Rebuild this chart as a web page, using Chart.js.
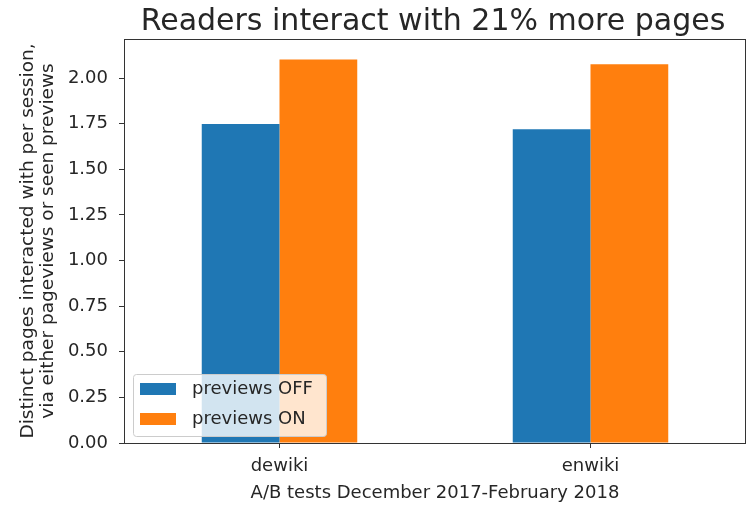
<!DOCTYPE html>
<html>
<head>
<meta charset="utf-8">
<script src="https://cdn.jsdelivr.net/npm/chart.js@4/dist/chart.umd.min.js"></script>
<style>
  html, body { margin: 0; padding: 0; background: #ffffff; }
  #wrap { width: 747px; height: 505px; }
</style>
</head>
<body>
<div id="wrap"><canvas id="myChart" width="747" height="505"></canvas></div>
<script>
// data
var wikis = ["dewiki", "enwiki"];
var previewsOff = [1.748, 1.719];
var previewsOn = [2.102, 2.075];
var seriesNames = ["previews OFF", "previews ON"];
var yTicks = [0, 0.25, 0.5, 0.75, 1.0, 1.25, 1.5, 1.75, 2.0];

var titleText = "Readers interact with 21% more pages";
var xTitle = "A/B tests December 2017-February 2018";
var yTitle = ["Distinct pages interacted with per session,", "via either pageviews or seen previews"];

var FONT = "'DejaVu Sans', sans-serif";
var INK = "#262626";

// title, frame and legend drawn on top
var extras = {
    id: "extras",
    afterDraw: function(chart){
        var ctx = chart.ctx;
        var a = chart.chartArea;
        ctx.save();

        // frame round the plot
        ctx.strokeStyle = "#333333";
        ctx.lineWidth = 1;
        ctx.strokeRect(a.left + 0.5, a.top + 0.5, a.right - a.left - 1, a.bottom - a.top);

        // title
        ctx.fillStyle = INK;
        ctx.font = "30px " + FONT;
        ctx.textAlign = "center";
        ctx.textBaseline = "alphabetic";
        ctx.fillText(titleText, (a.left + a.right) / 2 - 2, 30);

        // legend
        var bx = 133, by = 374, bw = 193, bh = 62;
        ctx.fillStyle = "rgba(255,255,255,0.8)";
        ctx.strokeStyle = "#cccccc";
        ctx.beginPath();
        if (ctx.roundRect) ctx.roundRect(bx + 0.5, by + 0.5, bw, bh, 3);
        else ctx.rect(bx + 0.5, by + 0.5, bw, bh);
        ctx.fill();
        ctx.stroke();

        ctx.font = "18px " + FONT;
        ctx.textAlign = "left";
        ctx.textBaseline = "middle";
        chart.data.datasets.forEach(function(ds, i){
            var y = by + 9 + i * 30;
            ctx.fillStyle = ds.backgroundColor;
            ctx.fillRect(bx + 7, y, 36, 12);
            ctx.fillStyle = INK;
            ctx.fillText(ds.label, bx + 59, y + 6);
        });
        ctx.restore();
    }
};

var ctx = document.getElementById("myChart");
var myBarChart = new Chart(ctx, {
    type: "bar",
    data: {
        labels: wikis,
        datasets: [
            { label: seriesNames[0], data: previewsOff, backgroundColor: "#1f77b4" },
            { label: seriesNames[1], data: previewsOn, backgroundColor: "#ff7f0e" }
        ]
    },
    options: {
        responsive: false,
        animation: false,
        layout: { padding: { top: 39, right: 1, left: 0, bottom: 0 } },
        datasets: { bar: { categoryPercentage: 0.5, barPercentage: 1.0 } },
        plugins: {
            legend: { display: false },
            tooltip: { enabled: false }
        },
        scales: {
            x: {
                offset: true,
                grid: { display: true, drawOnChartArea: false, drawTicks: true, tickLength: 5, color: "#333333", offset: false },
                border: { display: false },
                ticks: { color: INK, font: { family: FONT, size: 18 }, padding: 8, maxRotation: 0 },
                title: { display: true, text: xTitle, color: INK, font: { family: FONT, size: 18 }, padding: { top: 0, bottom: 1 } },
                afterFit: function(scale){ scale.height = 62; }
            },
            y: {
                min: 0,
                max: 2.214,
                grid: { display: true, drawOnChartArea: false, drawTicks: true, tickLength: 5, color: "#333333" },
                border: { display: false },
                ticks: {
                    color: INK,
                    font: { family: FONT, size: 18 },
                    padding: 11,
                    callback: function(v){ return Number(v).toFixed(2); }
                },
                afterBuildTicks: function(scale){
                    scale.ticks = yTicks.map(function(v){ return { value: v }; });
                },
                title: { display: true, text: yTitle, color: INK, font: { family: FONT, size: 18.5, lineHeight: 1.1 }, padding: { top: 18, bottom: 0 } },
                afterFit: function(scale){ scale.width = 124; }
            }
        }
    },
    plugins: [extras]
});
</script>
</body>
</html>
